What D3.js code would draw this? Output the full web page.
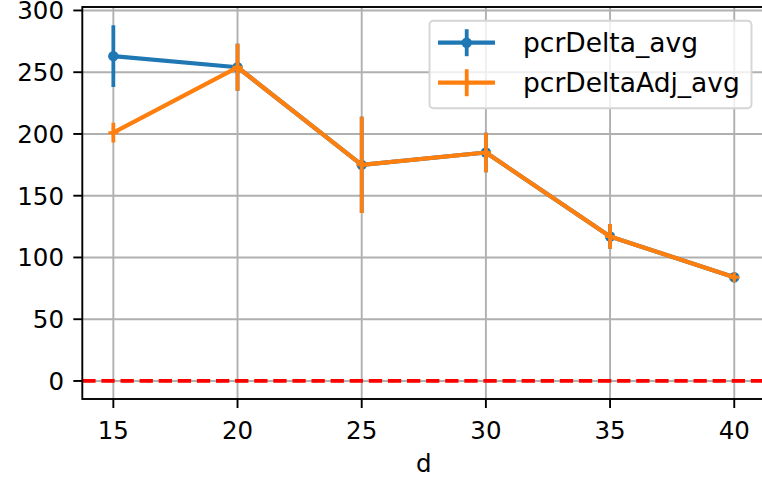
<!DOCTYPE html>
<html><head><meta charset="utf-8">
<script src="https://cdn.jsdelivr.net/npm/d3@7"></script>
<style>body{margin:0;background:#fff}svg{display:block}text{font-family:"DejaVu Sans",sans-serif;fill:#000}</style>
</head><body><svg id="c" width="762" height="478"></svg>
<script>
const dValues=[15,20,25,30,35,40];
const pcrDeltaAvg=[263,254,175,185,117,84];
const pcrDeltaErr=[25,19,39,16,10,2];
const pcrDeltaAdjAvg=[201,254,175,185,117,84];
const pcrDeltaAdjErr=[8,19,39,16,10,2];
const xTicks=[15,20,25,30,35,40];
const yTicks=[0,50,100,150,200,250,300];
const seriesNames=["pcrDelta_avg","pcrDeltaAdj_avg"];
const seriesColors=["#1f77b4","#ff7f0e"];
const xLabel="d";

const svg=d3.select("#c");
const L=82.3,T=7,R=765.3,B=399;
const x=d3.scaleLinear().domain([13.75,41.25]).range([L,R]);
const y=d3.scaleLinear().domain([-14.6,302.8]).range([B,T]);
const FS=24.5, LFS=26.5, LW=4.2;

svg.append("defs").append("clipPath").attr("id","pa").append("rect")
  .attr("x",L).attr("y",T).attr("width",R-L).attr("height",B-T);

// grid
const g=svg.append("g");
g.selectAll(".gx").data(xTicks).join("line").attr("x1",d=>x(d)).attr("x2",d=>x(d))
  .attr("y1",T).attr("y2",B).attr("stroke","#b0b0b0").attr("stroke-width",1.9);
g.selectAll(".gy").data(yTicks).join("line").attr("y1",d=>y(d)).attr("y2",d=>y(d))
  .attr("x1",L).attr("x2",R).attr("stroke","#b0b0b0").attr("stroke-width",1.9);

// series
const series=[
  {name:seriesNames[0],vals:pcrDeltaAvg,err:pcrDeltaErr,color:seriesColors[0],marker:"o"},
  {name:seriesNames[1],vals:pcrDeltaAdjAvg,err:pcrDeltaAdjErr,color:seriesColors[1],marker:"+"}
];
const plot=svg.append("g").attr("clip-path","url(#pa)");
const line=d3.line().x((d,i)=>x(dValues[i])).y(d=>y(d));
function drawMarker(sel,cx,cy,s){
  if(s.marker==="o"){
    sel.append("circle").attr("cx",cx).attr("cy",cy).attr("r",5.2).attr("fill",s.color);
  }else{
    sel.append("path").attr("d",`M${cx-5},${cy}H${cx+5}M${cx},${cy-5}V${cy+5}`)
      .attr("stroke",s.color).attr("stroke-width",3).attr("fill","none");
  }
}
series.forEach(s=>{
  const sg=plot.append("g");
  sg.selectAll("line.e").data(s.vals).join("line")
    .attr("x1",(d,i)=>x(dValues[i])).attr("x2",(d,i)=>x(dValues[i]))
    .attr("y1",(d,i)=>y(d-s.err[i])).attr("y2",(d,i)=>y(d+s.err[i]))
    .attr("stroke",s.color).attr("stroke-width",3.8);
  sg.append("path").datum(s.vals).attr("d",line).attr("fill","none")
    .attr("stroke",s.color).attr("stroke-width",LW).attr("stroke-linejoin","round");
  s.vals.forEach((v,i)=>drawMarker(sg,x(dValues[i]),y(v),s));
});

// zero line
plot.append("line").attr("x1",L).attr("x2",R).attr("y1",y(0)).attr("y2",y(0))
  .attr("stroke","#ff0000").attr("stroke-width",3.8).attr("stroke-dasharray","13.3,5.8");

// spines
const sp=svg.append("g").attr("stroke","#000").attr("stroke-width",1.9).attr("fill","none");
sp.append("rect").attr("x",L).attr("y",T).attr("width",R-L).attr("height",B-T);

// ticks
const ax=svg.append("g");
ax.selectAll(".tx").data(xTicks).join("line").attr("x1",d=>x(d)).attr("x2",d=>x(d))
  .attr("y1",B).attr("y2",B+9).attr("stroke","#000").attr("stroke-width",1.9);
ax.selectAll(".lx").data(xTicks).join("text").attr("x",d=>x(d)).attr("y",438.5)
  .attr("text-anchor","middle").attr("font-size",FS).text(d=>d);
ax.selectAll(".ty").data(yTicks).join("line").attr("y1",d=>y(d)).attr("y2",d=>y(d))
  .attr("x1",L-9).attr("x2",L).attr("stroke","#000").attr("stroke-width",1.9);
ax.selectAll(".ly").data(yTicks).join("text").attr("x",64).attr("y",d=>y(d)+8.8)
  .attr("text-anchor","end").attr("font-size",FS).text(d=>d);
svg.append("text").attr("x",(L+R)/2).attr("y",472).attr("text-anchor","middle")
  .attr("font-size",FS).text(xLabel);

// legend
const lg=svg.append("g");
lg.append("rect").attr("x",429.5).attr("y",20.7).attr("width",322).attr("height",87.6)
  .attr("rx",4).attr("fill","#fff").attr("fill-opacity",0.8).attr("stroke","#d5d5d5").attr("stroke-width",1.9);
series.forEach((s,i)=>{
  const cy=42.7+i*40;
  lg.append("line").attr("x1",438).attr("x2",495).attr("y1",cy).attr("y2",cy)
    .attr("stroke",s.color).attr("stroke-width",LW);
  lg.append("line").attr("x1",466.7).attr("x2",466.7).attr("y1",cy-13.5).attr("y2",cy+13.5)
    .attr("stroke",s.color).attr("stroke-width",3.8);
  drawMarker(lg,466.7,cy,s);
  lg.append("text").attr("x",523).attr("y",cy+9.5).attr("font-size",LFS).text(s.name);
});
</script></body></html>
